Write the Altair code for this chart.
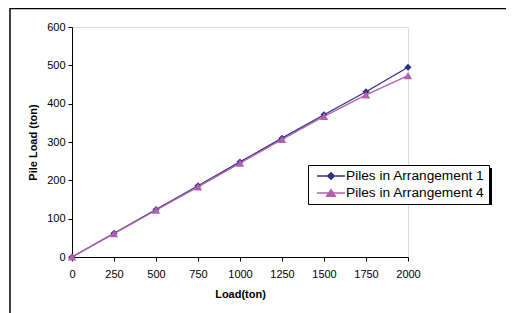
import altair as alt
import pandas as pd

loads = [0, 250, 500, 750, 1000, 1250, 1500, 1750, 2000]
arr1 = [0, 62, 124, 186, 248, 310, 371, 431, 495]
arr4 = [0, 61, 122, 183, 245, 307, 367, 423, 473]
series = ["Piles in Arrangement 1", "Piles in Arrangement 4"]
colors = ["#2f2f86", "#b35fb1"]
x_ticks = [0, 250, 500, 750, 1000, 1250, 1500, 1750, 2000]
y_ticks = [0, 100, 200, 300, 400, 500, 600]

df = pd.DataFrame({
    "load": loads * 2,
    "value": arr1 + arr4,
    "series": [series[0]] * len(loads) + [series[1]] * len(loads),
})

FONT = "Liberation Sans"

x = alt.X("load:Q", scale=alt.Scale(domain=[0, 2000], nice=False),
          axis=alt.Axis(values=x_ticks, title="Load(ton)", grid=False, format="d",
                        domainColor="black", tickColor="black", tickSize=4,
                        labelFontSize=11, labelColor="black", labelFont=FONT,
                        titleFont=FONT, titleFontSize=11, titleFontWeight="bold",
                        titleColor="black", labelPadding=7, titlePadding=9,
                        labelFlush=False))
y = alt.Y("value:Q", scale=alt.Scale(domain=[0, 600], nice=False),
          axis=alt.Axis(values=y_ticks, title="Pile Load (ton)", grid=False, format="d",
                        domainColor="black", tickColor="black", tickSize=4,
                        labelFontSize=11, labelColor="black", labelFont=FONT,
                        titleFont=FONT, titleFontSize=11, titleFontWeight="bold",
                        titleColor="black", labelPadding=3, titlePadding=8))

def series_layers(name, col, shape, size):
    base = alt.Chart(df).transform_filter(alt.datum.series == name)
    ln = base.mark_line(strokeWidth=1.3, color=col).encode(x=x, y=y)
    pt = base.mark_point(shape=shape, filled=True, size=size, opacity=1, color=col).encode(x=x, y=y)
    return [ln, pt]

# legend symbol: line segment with marker, unit = 6px (symbolSize 144)
P1 = "M-0.333,0H4.333M2,-0.55L2.55,0L2,0.55L1.45,0Z"
P4 = "M-0.333,0H4.333M2,-0.55L2.717,0.55L1.283,0.55Z"

leg = alt.Legend(title=None, orient="none", legendX=236, legendY=138,
                 strokeColor="black", fillColor="white", padding=4,
                 labelFont=FONT, labelFontSize=13.7, labelColor="black",
                 labelOffset=20, rowPadding=3, symbolSize=144,
                 symbolStrokeWidth=1.5, symbolOpacity=1, labelLimit=300)

legend_layer = alt.Chart(df).transform_filter("false").mark_point(
    filled=True, opacity=1, strokeWidth=1.5).encode(
    x=x, y=y,
    shape=alt.Shape("series:N", scale=alt.Scale(domain=series, range=[P1, P4]), legend=leg),
    fill=alt.Fill("series:N", scale=alt.Scale(domain=series, range=colors), legend=leg),
    stroke=alt.Stroke("series:N", scale=alt.Scale(domain=series, range=colors), legend=leg),
)

frame_df = pd.DataFrame({"k": [0]})
left_border = alt.Chart(frame_df).mark_rule(color="black", strokeWidth=1.5).encode(
    x=alt.value(-62), y=alt.value(-19), y2=alt.value(300))
top_border = alt.Chart(frame_df).mark_rule(color="black", strokeWidth=1.5).encode(
    x=alt.value(-62), x2=alt.value(440), y=alt.value(-18.5))
shadow = alt.Chart(frame_df).mark_rect(color="black").encode(
    x=alt.value(239), x2=alt.value(420), y=alt.value(141), y2=alt.value(178))

layers = [left_border, top_border, shadow]
layers += series_layers(series[0], colors[0], "diamond", 50)
layers += series_layers(series[1], colors[1], "triangle-up", 70)
layers += [legend_layer]

chart = alt.layer(*layers).properties(
    width=336, height=230,
    autosize=alt.AutoSizeParams(type="none"),
    padding={"left": 64, "top": 19, "right": 98, "bottom": 56},
).configure_view(stroke=None).configure(background="white")

chart.save("out.html", embed_options={"renderer": "svg", "actions": False})
